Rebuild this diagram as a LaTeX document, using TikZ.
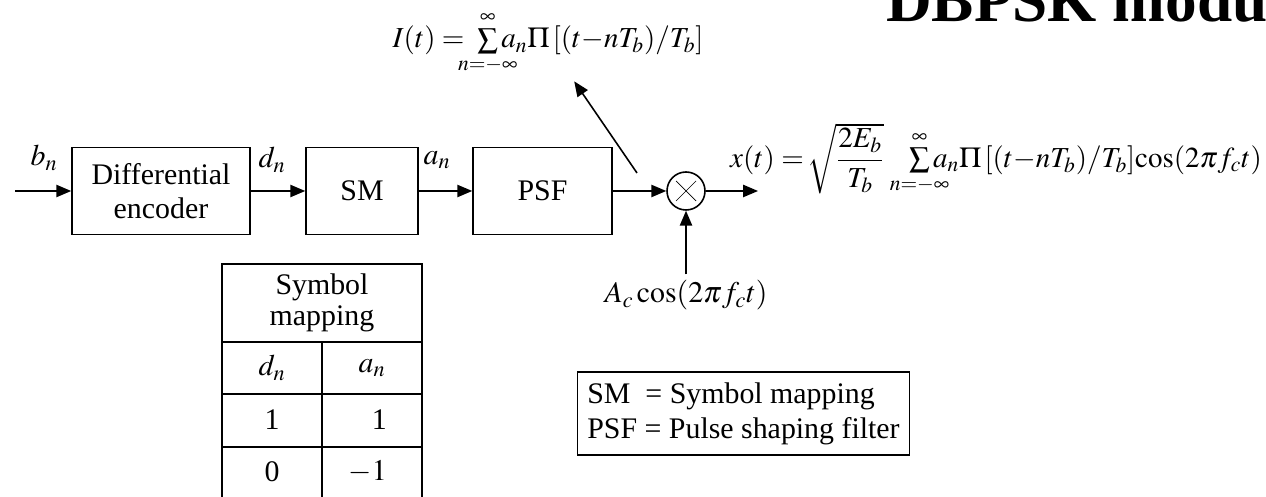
\documentclass[tikz,border=0pt]{standalone}
\usepackage{mathptmx}
\usepackage{mathtools}
\usepackage{fontspec}
\setmainfont{Liberation Serif}
\usetikzlibrary{arrows.meta,positioning,calc}

\tikzset{
  bloc/.style={draw,line width=0.9pt,minimum height=1.74cm,align=center},
  fleche/.style={-{Triangle[length=8.5pt,width=7pt]},line width=0.9pt},
  trait/.style={line width=0.9pt},
  formule/.style={font=\fontsize{16.5}{19}\selectfont},
}

\begin{document}
\begin{tikzpicture}[every node/.style={font=\fontsize{17}{19}\selectfont}]
  \useasboundingbox (0,0) rectangle (25.32,9.94);

  % titre, coupé par le bord droit
  \node[anchor=base west,font=\fontsize{36}{40}\selectfont\bfseries] (titre) at (17.60,9.50) {DBPSK modu};

  % chaîne du modulateur
  \node[bloc,minimum width=3.56cm] (enc) at (3.22,6.12) {Differential\\encoder};
  \node[bloc,minimum width=2.24cm] (sm) at (7.24,6.12) {SM};
  \node[bloc,minimum width=2.78cm] (psf) at (10.85,6.12) {PSF};
  \node[draw,trait,circle,minimum size=0.76cm,inner sep=0pt] (mix) at (13.72,6.12) {};
  \draw[thin] ($(mix)+(-0.2,-0.2)$) -- ($(mix)+(0.2,0.2)$);
  \draw[thin] ($(mix)+(-0.2,0.2)$) -- ($(mix)+(0.2,-0.2)$);

  \coordinate (in) at (0.30,6.12);
  \coordinate (out) at (15.16,6.12);
  \coordinate (tap) at (12.74,6.48);
  \draw[fleche] (in) -- (enc);
  \draw[fleche] (enc) -- (sm);
  \draw[fleche] (sm) -- (psf);
  \draw[fleche] (psf) -- (mix);
  \draw[fleche] (mix) -- (out);

  \node (bn) at (0.88,6.78) {$b_n$};
  \node (dn) at (5.44,6.74) {$d_n$};
  \node (an) at (8.74,6.74) {$a_n$};

  % porteuse et signaux
  \node (car) at (13.72,4.03) {$A_c\cos(2\pi f_c t)$};
  \draw[fleche] (car) -- (mix);

  \node[formule] (it) at (10.96,9.08)
    {$I(t) =\;\sum\limits_{\mathclap{n=-\infty}}^{\infty} a_n\Pi\,[(t{-}nT_b)/T_b]$};
  \draw[fleche] (tap) -- (it);

  \node[formule,anchor=west] (xt) at (14.48,6.76)
    {$x(t) = \!\sqrt{\dfrac{2E_b}{T_b}}\hspace{0.75em}\sum\limits_{\mathclap{n=-\infty}}^{\infty} a_n\Pi\,[(t{-}nT_b)/T_b]\mathrm{cos}(2\pi f_c t)$};

  % légende
  \node[draw,trait,align=left,inner xsep=0.2cm,minimum height=1.66cm,
        font=\fontsize{17}{20}\selectfont] (leg) at (14.87,1.67)
        {SM\ \ = Symbol mapping\\PSF = Pulse shaping filter};

  % table de correspondance
  \draw[trait] (4.44,0) -- (4.44,4.66) -- (8.44,4.66) -- (8.44,0);
  \draw[trait] (4.44,3.10) -- (8.44,3.10);
  \draw[trait] (6.44,0) -- (6.44,3.10);
  \foreach \y in {2.06,1.00} {
    \draw[trait] (4.44,\y) -- (8.44,\y);
  }
  \node[align=center,font=\fontsize{17}{17.5}\selectfont] (thead) at (6.44,3.88) {Symbol\\mapping};
  \node (td) at (5.44,2.58) {$d_n$};
  \node (ta) at (7.44,2.58) {$a_n$};
  \node (d1) at (5.44,1.54) {1};
  \node[anchor=east] (a1) at (7.86,1.54) {1};
  \node (d0) at (5.44,0.50) {0};
  \node[anchor=east] (a0) at (7.86,0.50) {$-1$};
\end{tikzpicture}
\end{document}
